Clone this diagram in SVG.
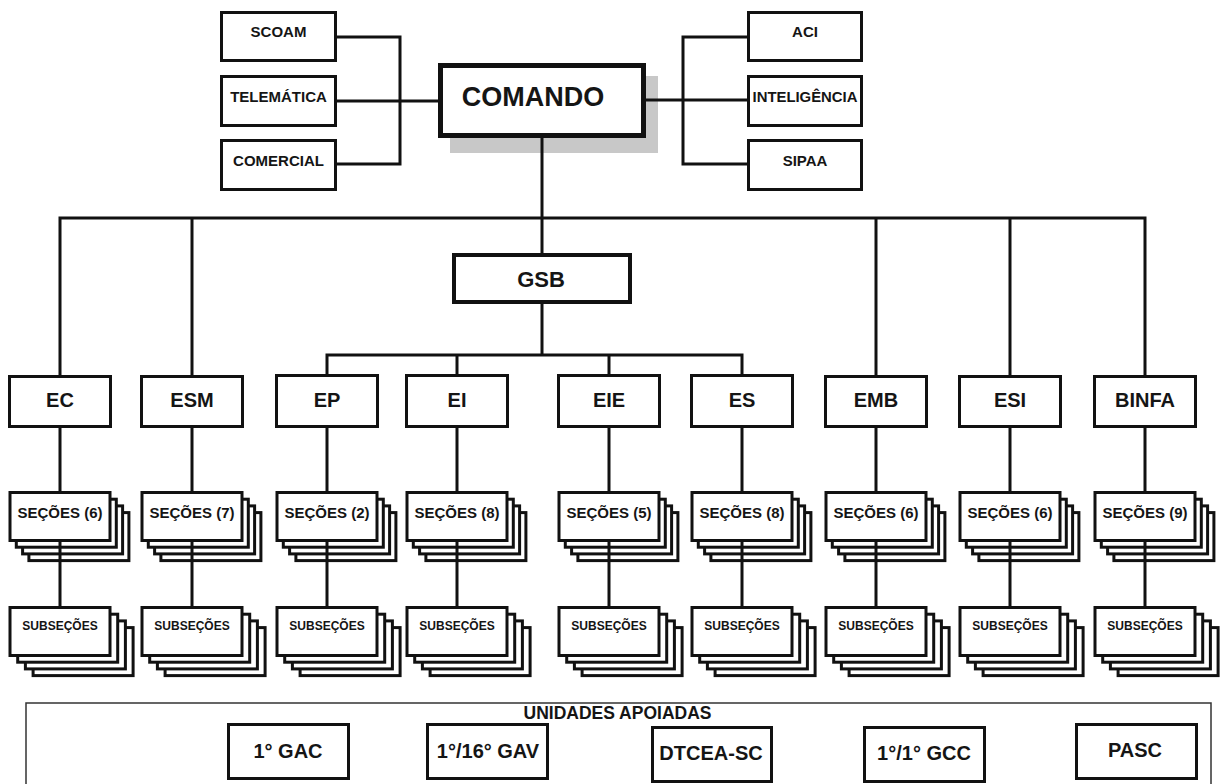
<svg xmlns="http://www.w3.org/2000/svg" xmlns:xlink="http://www.w3.org/1999/xlink" width="1220" height="784" viewBox="0 0 1220 784">
<style>
  .box{fill:#fff;stroke:#111;stroke-width:3}
  .thick{fill:#fff;stroke:#111;stroke-width:5}
  .med{fill:#fff;stroke:#111;stroke-width:4}
  .frame{fill:none;stroke:#333;stroke-width:1.5}
  .t{font-family:"Liberation Sans",Arial,sans-serif;font-weight:bold;fill:#151515;text-anchor:middle}
  .s15{font-size:15px}
  .s12{font-size:12px}
  .s20{font-size:20px}
  .conn{fill:none;stroke:#111;stroke-width:3}
</style>
<defs>
  <g id="stackSec">
    <rect class="box" x="20.4" y="21.6" width="100" height="48"/>
    <rect class="box" x="14.1" y="14.9" width="100" height="48"/>
    <rect class="box" x="7.8" y="8.2" width="100" height="48"/>
    <rect class="box" x="1.5" y="1.5" width="100" height="48"/>
  </g>
  <g id="stackSub">
    <rect class="box" x="24.6" y="21.6" width="100" height="48"/>
    <rect class="box" x="16.9" y="14.9" width="100" height="48"/>
    <rect class="box" x="9.2" y="8.2" width="100" height="48"/>
    <rect class="box" x="1.5" y="1.5" width="100" height="48"/>
  </g>
</defs>
<rect width="1220" height="784" fill="#fff"/>

<!-- Top -->
<g id="comando">
  <rect x="450" y="76" width="208" height="77" fill="#c8c8c8"/>
  <rect class="thick" x="440.5" y="65.5" width="203" height="70"/>
  <text class="t" x="533" y="106" font-size="27">COMANDO</text>
</g>
<g id="scoam"><rect class="box" x="221.5" y="12.5" width="114" height="48"/><text class="t s15" x="278.5" y="37">SCOAM</text></g>
<g id="telematica"><rect class="box" x="221.5" y="76.5" width="114" height="49"/><text class="t s15" x="278.5" y="102">TELEMÁTICA</text></g>
<g id="comercial"><rect class="box" x="221.5" y="140.5" width="114" height="49"/><text class="t s15" x="278.5" y="166">COMERCIAL</text></g>
<g id="aci"><rect class="box" x="748.5" y="12.5" width="113" height="48"/><text class="t s15" x="805" y="37">ACI</text></g>
<g id="inteligencia"><rect class="box" x="748.5" y="76.5" width="113" height="49"/><text class="t s15" x="805" y="102" textLength="105" lengthAdjust="spacingAndGlyphs">INTELIGÊNCIA</text></g>
<g id="sipaa"><rect class="box" x="748.5" y="140.5" width="113" height="49"/><text class="t s15" x="805" y="166">SIPAA</text></g>

<g id="gsb">
  <rect class="med" x="454" y="255" width="176" height="47"/>
  <text class="t" x="541" y="287" font-size="22">GSB</text>
</g>

<!-- Row boxes -->
<g id="ec"><rect class="box" x="9.5" y="376.5" width="101" height="50"/><text class="t s20" x="60" y="407">EC</text></g>
<g id="esm"><rect class="box" x="141.5" y="376.5" width="101" height="50"/><text class="t s20" x="192" y="407">ESM</text></g>
<g id="ep"><rect class="box" x="276.5" y="375.5" width="101" height="51"/><text class="t s20" x="327" y="407">EP</text></g>
<g id="ei"><rect class="box" x="406.5" y="375.5" width="101" height="51"/><text class="t s20" x="457" y="407">EI</text></g>
<g id="eie"><rect class="box" x="558.5" y="375.5" width="101" height="51"/><text class="t s20" x="609" y="407">EIE</text></g>
<g id="es"><rect class="box" x="691.5" y="375.5" width="101" height="51"/><text class="t s20" x="742" y="407">ES</text></g>
<g id="emb"><rect class="box" x="825.5" y="376.5" width="101" height="50"/><text class="t s20" x="876" y="407">EMB</text></g>
<g id="esi"><rect class="box" x="959.5" y="376.5" width="101" height="50"/><text class="t s20" x="1010" y="407">ESI</text></g>
<g id="binfa"><rect class="box" x="1094.5" y="376.5" width="101" height="50"/><text class="t s20" x="1145" y="407">BINFA</text></g>

<!-- Seções stacks -->
<g id="sec-ec"><use xlink:href="#stackSec" x="8.5" y="491"/><text class="t s15" x="60" y="518">SEÇÕES (6)</text></g>
<g id="sec-esm"><use xlink:href="#stackSec" x="140.5" y="491"/><text class="t s15" x="192" y="518">SEÇÕES (7)</text></g>
<g id="sec-ep"><use xlink:href="#stackSec" x="275.5" y="491"/><text class="t s15" x="327" y="518">SEÇÕES (2)</text></g>
<g id="sec-ei"><use xlink:href="#stackSec" x="405.5" y="491"/><text class="t s15" x="457" y="518">SEÇÕES (8)</text></g>
<g id="sec-eie"><use xlink:href="#stackSec" x="557.5" y="491"/><text class="t s15" x="609" y="518">SEÇÕES (5)</text></g>
<g id="sec-es"><use xlink:href="#stackSec" x="690.5" y="491"/><text class="t s15" x="742" y="518">SEÇÕES (8)</text></g>
<g id="sec-emb"><use xlink:href="#stackSec" x="824.5" y="491"/><text class="t s15" x="876" y="518">SEÇÕES (6)</text></g>
<g id="sec-esi"><use xlink:href="#stackSec" x="958.5" y="491"/><text class="t s15" x="1010" y="518">SEÇÕES (6)</text></g>
<g id="sec-binfa"><use xlink:href="#stackSec" x="1093.5" y="491"/><text class="t s15" x="1145" y="518">SEÇÕES (9)</text></g>

<!-- Subseções stacks -->
<g id="sub-ec"><use xlink:href="#stackSub" x="8.5" y="606"/><text class="t s12" x="60" y="630">SUBSEÇÕES</text></g>
<g id="sub-esm"><use xlink:href="#stackSub" x="140.5" y="606"/><text class="t s12" x="192" y="630">SUBSEÇÕES</text></g>
<g id="sub-ep"><use xlink:href="#stackSub" x="275.5" y="606"/><text class="t s12" x="327" y="630">SUBSEÇÕES</text></g>
<g id="sub-ei"><use xlink:href="#stackSub" x="405.5" y="606"/><text class="t s12" x="457" y="630">SUBSEÇÕES</text></g>
<g id="sub-eie"><use xlink:href="#stackSub" x="557.5" y="606"/><text class="t s12" x="609" y="630">SUBSEÇÕES</text></g>
<g id="sub-es"><use xlink:href="#stackSub" x="690.5" y="606"/><text class="t s12" x="742" y="630">SUBSEÇÕES</text></g>
<g id="sub-emb"><use xlink:href="#stackSub" x="824.5" y="606"/><text class="t s12" x="876" y="630">SUBSEÇÕES</text></g>
<g id="sub-esi"><use xlink:href="#stackSub" x="958.5" y="606"/><text class="t s12" x="1010" y="630">SUBSEÇÕES</text></g>
<g id="sub-binfa"><use xlink:href="#stackSub" x="1093.5" y="606"/><text class="t s12" x="1145" y="630">SUBSEÇÕES</text></g>

<!-- Unidades apoiadas -->
<g id="unidades">
  <rect class="frame" x="26" y="703" width="1185" height="100"/>
  <text class="t" x="617.5" y="719" font-size="17.5">UNIDADES APOIADAS</text>
</g>
<g id="gac"><rect class="box" x="228.5" y="724.5" width="120" height="54"/><text class="t s20" x="288" y="758">1° GAC</text></g>
<g id="gav"><rect class="box" x="427.5" y="724.5" width="120" height="54"/><text class="t s20" x="488" y="758">1°/16° GAV</text></g>
<g id="dtcea"><rect class="box" x="652.5" y="727.5" width="119" height="54"/><text class="t s20" x="711" y="760">DTCEA-SC</text></g>
<g id="gcc"><rect class="box" x="864.5" y="727.5" width="120" height="54"/><text class="t s20" x="924" y="760">1°/1° GCC</text></g>
<g id="pasc"><rect class="box" x="1076.5" y="724.5" width="120" height="54"/><text class="t s20" x="1135" y="757">PASC</text></g>

<!-- Connectors -->
<g id="connectors" class="conn">
  <path d="M337 37 H400 V164 H337"/>
  <path d="M337 101 H438"/>
  <path d="M646 100 H747"/>
  <path d="M747 37 H683 V164 H747"/>
  <path d="M542 138 V253"/>
  <path d="M60 375 V218 H1145 V375"/>
  <path d="M192 218 V375"/>
  <path d="M876 218 V375"/>
  <path d="M1010 218 V375"/>
  <path d="M542 304 V355"/>
  <path d="M327 374 V355 H742 V374"/>
  <path d="M457 355 V374"/>
  <path d="M609 355 V374"/>
  <path d="M60 428 V491 M60 542 V607"/>
  <path d="M192 428 V491 M192 542 V607"/>
  <path d="M327 428 V491 M327 542 V607"/>
  <path d="M457 428 V491 M457 542 V607"/>
  <path d="M609 428 V491 M609 542 V607"/>
  <path d="M742 428 V491 M742 542 V607"/>
  <path d="M876 428 V491 M876 542 V607"/>
  <path d="M1010 428 V491 M1010 542 V607"/>
  <path d="M1145 428 V491 M1145 542 V607"/>
</g>
</svg>
